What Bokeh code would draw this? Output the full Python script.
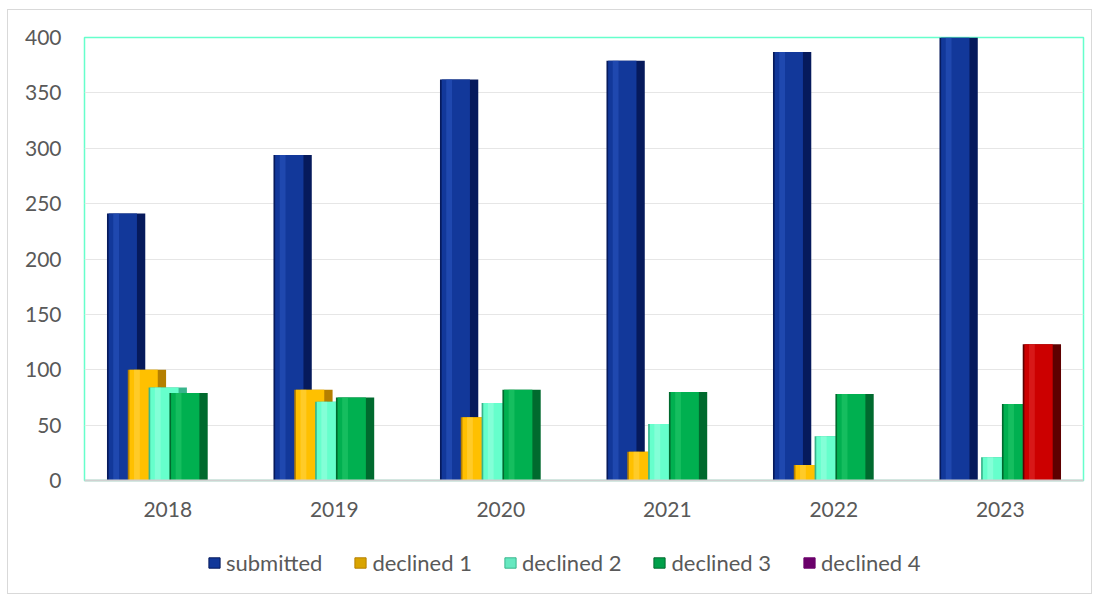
from bokeh.plotting import figure
from bokeh.layouts import column, row
from bokeh.models import ColumnDataSource, Range1d, FactorRange, Legend, LegendItem, SingleIntervalTicker, Spacer
from bokeh.transform import dodge
from bokeh.embed import file_html
from bokeh.resources import INLINE

years = ["2018", "2019", "2020", "2021", "2022", "2023"]
series_names = ["submitted", "declined 1", "declined 2", "declined 3", "declined 4"]
submitted = [241, 294, 362, 379, 387, 400]
declined_1 = [100, 82, 57, 26, 14, 0]
declined_2 = [84, 71, 70, 51, 40, 21]
declined_3 = [79, 75, 82, 80, 78, 69]
declined_4 = [0, 0, 0, 0, 0, 123]
series_values = [submitted, declined_1, declined_2, declined_3, declined_4]

# style (not data)
offsets = [-0.25, -0.125, 0.0, 0.125, 0.25]
bar_w = 0.23
main_cols = ["#12389A", "#FFC000", "#66FFCC", "#00B050", "#CC0000"]
dark_cols = ["#061A5C", "#B57F00", "#38B58C", "#006A2E", "#5E0000"]
hi_cols = ["#2C58C4", "#FFD650", "#A0FFE2", "#2ACB6E", "#E43030"]
legend_cols = ["#12389A", "#D9A400", "#66E8C0", "#00A04A", "#6B006B"]
BORDER = "1px solid #D9D9D9"

src = {"year": years}
for i, v in enumerate(series_values):
    src[f"s{i}"] = v
source = ColumnDataSource(src)

p = figure(x_range=FactorRange(*years), y_range=Range1d(0, 400),
           width=1085, height=531, output_backend="svg", toolbar_location=None,
           min_border_left=76, min_border_right=10, min_border_top=27, min_border_bottom=61)
p.styles = {"border-top": BORDER, "border-left": BORDER, "border-right": BORDER}

p.outline_line_color = "#66FFCC"
p.outline_line_width = 1.5
p.background_fill_color = "white"
p.border_fill_color = "white"

p.xgrid.grid_line_color = None
p.ygrid.grid_line_color = "#E6E6E6"
p.ygrid.grid_line_width = 1.2

p.yaxis.ticker = SingleIntervalTicker(interval=50)
p.yaxis.axis_line_color = None
p.yaxis.major_tick_line_color = None
p.yaxis.minor_tick_line_color = None
p.yaxis.major_label_standoff = 17
p.xaxis.axis_line_color = "#D0D0D0"
p.xaxis.axis_line_width = 2
p.xaxis.major_tick_line_color = None
p.xaxis.minor_tick_line_color = None
p.xaxis.major_label_standoff = 15
for ax in (p.xaxis, p.yaxis):
    ax.major_label_text_font = "Lato"
    ax.major_label_text_font_size = "21px"
    ax.major_label_text_color = "#595959"

for i in range(5):
    col = f"s{i}"
    off = offsets[i]
    p.vbar(x=dodge("year", off, range=p.x_range), top=col, width=bar_w, bottom=0,
           source=source, fill_color=dark_cols[i], line_color=None)
    p.vbar(x=dodge("year", off - 0.02, range=p.x_range), top=col, width=bar_w - 0.06, bottom=0,
           source=source, fill_color=main_cols[i], line_color=None)
    p.vbar(x=dodge("year", off - 0.06, range=p.x_range), top=col, width=0.035, bottom=0,
           source=source, fill_color=hi_cols[i], line_color=None, fill_alpha=0.5)

# legend strip: a second figure with hidden renderers used only for swatches
q = figure(x_range=FactorRange(*years), y_range=Range1d(0, 400),
           width=1085, height=54, output_backend="svg", toolbar_location=None,
           min_border_left=76, min_border_right=10, min_border_top=0, min_border_bottom=12)
q.styles = {"border-bottom": BORDER, "border-left": BORDER, "border-right": BORDER}
q.axis.visible = False
q.grid.visible = False
q.outline_line_color = None
q.background_fill_color = "white"
q.border_fill_color = "white"

items = []
for i, name in enumerate(series_names):
    r = q.vbar(x="year", top=f"s{i}", width=0.1, source=source, visible=False,
               fill_color=legend_cols[i],
               line_color=dark_cols[i] if i < 4 else legend_cols[i])
    items.append(LegendItem(label=name, renderers=[r]))

legend = Legend(items=items, orientation="horizontal", location=(123, 6),
                glyph_width=14, glyph_height=13, label_standoff=5, spacing=31,
                padding=2, margin=0, border_line_color=None, background_fill_alpha=0,
                label_text_font="Lato", label_text_font_size="22px", label_text_color="#595959")
q.add_layout(legend, "center")

layout = column(Spacer(height=9), row(Spacer(width=7), column(p, q)))
open("out.html", "w").write(file_html(layout, INLINE))
